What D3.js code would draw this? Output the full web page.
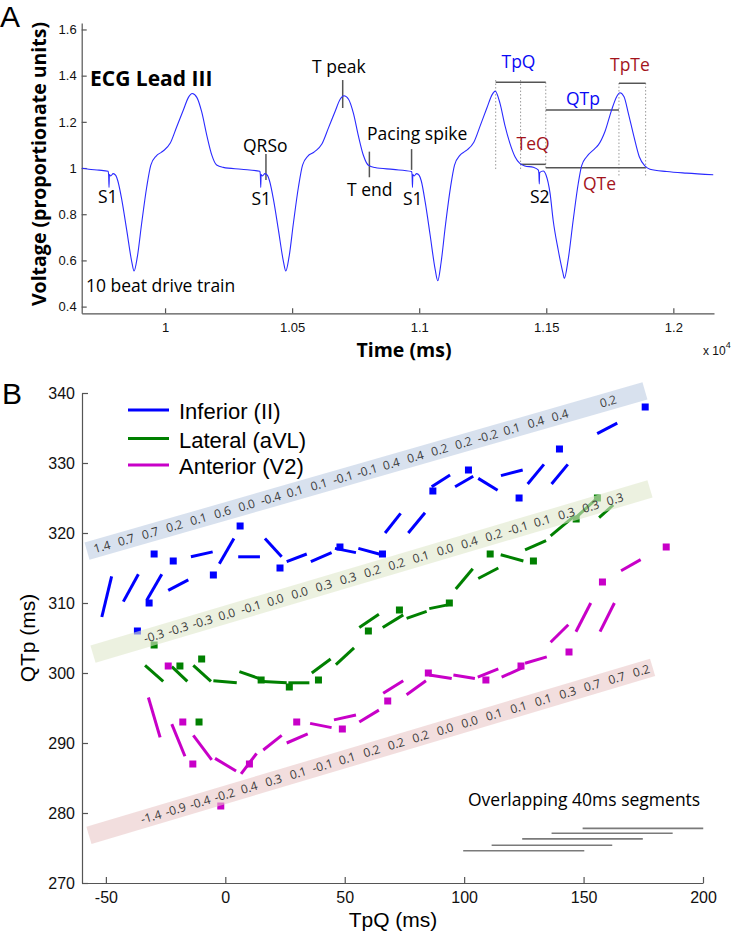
<!DOCTYPE html>
<html><head><meta charset="utf-8">
<script src="https://cdn.jsdelivr.net/npm/d3@7"></script>
<style>body{margin:0;background:#fff}svg{display:block}</style>
</head><body>
<svg id="c" width="736" height="933"></svg>
<script>
// ---------------- Panel A data (ECG Lead III) ----------------
const ecgTime = [9673,9700,9740,9776,9778,9779.5,9781,9786,9796,9806,9814,9830,9849,9869,9878,9891,9908,9928,9944,9965,9985,9995,10020,10046,10072,10092,10107,10125,10144,10164,10184,10203,10229,10300,10373,
 10375,10376.5,10378,10383,10393,10403,10411,10427,10446,10466,10475,10488,10505,10525,10541,10562,10582,10592,10617,10643,10669,10689,10704,10722,10741,10761,10781,10800,10826,10897,10970,
 10972,10973.5,10975,10980,10990,11000,11008,11024,11043,11063,11073,11086,11103,11123,11139,11160,11180,11190,11215,11241,11267,11287,11299,11318,11337,11357,11377,11396,11416,11449,11469,
 11471,11472.5,11474,11488,11499,11515,11527,11547,11566,11571,11586,11606,11626,11639,11659,11692,11705,11731,11757,11777,11790,11806,11823,11845,11866,11888,11908,11974,12052,12157];
const ecgVolt = [0.999,0.995,0.991,0.986,0.970,0.916,0.972,0.966,0.976,0.968,0.945,0.861,0.732,0.594,0.554,0.616,0.761,0.919,1.013,1.052,1.068,1.076,1.107,1.179,1.251,1.306,1.323,1.306,1.244,1.143,1.056,1.013,1.003,0.995,0.986,
 0.970,0.916,0.972,0.966,0.976,0.968,0.945,0.861,0.732,0.594,0.554,0.616,0.761,0.919,1.013,1.052,1.066,1.074,1.104,1.174,1.245,1.298,1.313,1.298,1.238,1.138,1.053,1.012,1.002,0.994,0.985,
 0.970,0.916,0.972,0.966,0.976,0.968,0.945,0.850,0.710,0.560,0.512,0.590,0.750,0.915,1.013,1.055,1.072,1.080,1.112,1.186,1.262,1.318,1.333,1.280,1.186,1.107,1.049,1.020,1.009,1.003,0.991,
 0.975,0.931,0.980,0.987,0.970,0.890,0.775,0.645,0.544,0.522,0.602,0.775,0.934,1.009,1.049,1.085,1.100,1.158,1.251,1.309,1.326,1.309,1.237,1.136,1.049,1.009,0.995,0.985,0.978,0.971];
const voltTicks = [0.4,0.6,0.8,1.0,1.2,1.4,1.6];
const voltTickLabels = ["0.4","0.6","0.8","1","1.2","1.4","1.6"];
const timeTicks = [10000,10500,11000,11500,12000];
const timeTickLabels = ["1","1.05","1.1","1.15","1.2"];
// interval marks (ms)
const tPeak3 = 11301, tEnd3 = 11399, tQ = 11498, tPeakS2 = 11786, tEndS2 = 11891;

// ---------------- Panel B data ----------------
const blueX = [-36.8,-31.9,-29.8,-21.8,-5.0,6.2,22.9,48.0,65.8,86.9,101.8,123.0,139.9,175.8];
const blueY = [306,310,317,316,314,321,315,318,317,326,329,325,332,338];
const greenX = [-29.8,-19.0,-9.9,-11.0,15.0,26.8,39.0,59.9,72.9,93.8,110.9,129.0,146.9,155.8];
const greenY = [304,301,302,293,299,298,299,306,309,310,317,316,322,325];
const magX = [-23.9,-17.8,-13.6,-1.9,10.1,29.9,49.0,68.0,85.0,109.1,123.8,143.9,157.9,184.6];
const magY = [301,293,287,281,287,293,292,296,300,299,301,303,313,318];

// local linear fits over overlapping segments: [x1,y1,x2,y2]
const blueSegments = [[-51.7,308.0,-47.6,313.8],[-42.7,310.2,-36.4,314.1],[-32.9,310.4,-26.6,314.1],[-23.9,311.8,-15.5,313.3],
 [-14.4,316.6,-5.3,317.3],[-2.5,315.6,3.6,319.2],[5.4,316.6,14.5,316.6],[16.6,319.2,23.6,316.6],[25.7,315.9,34.1,317.0],
 [35.8,315.9,44.5,317.2],[45.9,317.8,54.7,317.2],[55.7,317.8,65.5,316.9],[66.9,320.0,73.4,322.8],[76.6,320.0,83.6,322.9],
 [86.4,326.6,94.1,328.3],[96.2,326.6,103.8,328.1],[105.9,327.8,114.0,326.1],[115.4,328.2,124.5,329.0],[126.6,327.0,133.4,329.8],
 [136.6,327.0,143.4,329.8],[155.7,334.2,164.1,335.7]];
const greenSegments = [[-33.6,301.1,-26.0,298.8],[-22.4,300.9,-15.9,298.8],[-13.4,301.1,-6.0,298.8],[-5.0,298.9,4.8,298.6],
 [5.9,300.2,15.9,299.0],[15.7,298.8,25.7,298.6],[26.4,298.6,35.2,298.6],[36.2,300.0,44.1,302.0],[46.3,301.2,53.9,303.6],
 [56.1,306.5,64.3,308.4],[65.9,306.5,74.5,308.3],[75.9,307.8,84.3,308.8],[85.4,309.2,94.1,309.8],[96.5,312.0,103.6,314.9],
 [105.9,313.5,114.3,315.0],[115.3,316.9,124.8,316.0],[125.5,317.6,134.3,318.9],[136.2,319.6,145.7,322.3],[146.4,322.1,154.8,324.7],
 [156.5,322.2,162.4,324.0]];
const magSegments = [[-32.2,296.5,-27.3,290.8],[-22.4,292.7,-16.9,288.1],[-13.4,291.1,-5.7,287.6],[-4.3,287.8,4.5,286.0],
 [6.6,285.6,13.1,288.5],[15.9,289.0,23.6,291.1],[25.7,290.0,34.5,291.3],[35.5,292.8,44.5,292.2],[45.5,293.3,54.7,294.0],
 [56.1,293.0,64.3,294.7],[66.1,297.1,74.5,298.9],[75.9,296.9,84.0,298.9],[85.4,299.7,94.8,299.2],[95.5,299.7,104.5,299.2],
 [105.7,299.4,114.3,300.6],[115.7,299.4,124.8,300.8],[125.5,301.4,134.6,302.3],[136.2,304.4,143.6,306.9],[146.8,305.9,153.0,310.0],
 [156.9,305.9,162.9,310.0],[165.7,314.6,173.9,316.2]];

const blueSlopes = ["1.4","0.7","0.7","0.2","0.1","0.6","0.0","-0.4","0.1","0.1","-0.1","-0.1","0.4","0.4","0.2","0.2","-0.2","0.1","0.4","0.4","","0.2"];
const greenSlopes = ["","","-0.3","-0.3","-0.3","0.0","-0.1","0.0","0.0","0.3","0.3","0.2","0.2","0.1","0.0","0.4","0.2","-0.1","0.1","0.3","0.3","0.3"];
const magSlopes = ["","","-1.4","-0.9","-0.4","-0.2","0.4","0.3","0.1","-0.1","0.1","0.2","0.2","0.2","0.0","0.0","0.1","0.1","0.1","0.3","0.7","0.7","0.2"];

const seriesNames = ["Inferior (II)","Lateral (aVL)","Anterior (V2)"];
const qtpTicks = [270,280,290,300,310,320,330,340];
const tpqTicks = [-50,0,50,100,150,200];
const windowStarts = [99.6,111.5,124.3,136.6,149.6];
const windowEnds = [150.3,162.0,174.8,187.3,200.1];
const windowLevels = [274.6,275.4,276.3,277.1,277.8];

// ---------------- drawing ----------------
const svg = d3.select("#c");
const SANS = "'Liberation Sans', Arial, sans-serif";
const CAL = "'Open Sans', sans-serif";
const BLUE = "#0000ff", GREEN = "#008000", MAG = "#c800c8";
const AXC = "#555";

function styleAxis(g, fs) {
  g.select(".domain").attr("stroke", AXC).attr("stroke-width", 1.2);
  g.selectAll(".tick line").attr("stroke", AXC).attr("stroke-width", 1.2);
  g.selectAll(".tick text").attr("fill", "#111").style("font-family", SANS).style("font-size", fs + "px");
}

// ===== Panel A =====
const xA = d3.scaleLinear().domain([9672, 12160]).range([81.7, 714]);
const yA = d3.scaleLinear().domain([0.371, 1.628]).range([313.3, 23]);

const axA_y = svg.append("g").attr("transform", `translate(${xA.range()[0]},0)`)
  .call(d3.axisLeft(yA).tickValues(voltTicks).tickFormat((d, i) => voltTickLabels[i]).tickSizeInner(-5).tickSizeOuter(0).tickPadding(5));
styleAxis(axA_y, 13);
const axA_x = svg.append("g").attr("transform", `translate(0,${yA.range()[0]})`)
  .call(d3.axisBottom(xA).tickValues(timeTicks).tickFormat((d, i) => timeTickLabels[i]).tickSizeInner(-5).tickSizeOuter(0).tickPadding(9));
styleAxis(axA_x, 13);

// dotted guides and interval bars
const gAnn = svg.append("g");
const dotted = [[tPeak3, 1.381, 0.9915], [tEnd3, 1.381, 0.9915], [tQ, 1.371, 1.0], [tPeakS2, 1.368, 0.966], [tEndS2, 1.368, 0.966]];
gAnn.selectAll("line.dot").data(dotted).join("line")
  .attr("x1", d => xA(d[0])).attr("x2", d => xA(d[0]))
  .attr("y1", d => yA(d[1])).attr("y2", d => yA(d[2]))
  .attr("stroke", "#999").attr("stroke-width", 1).attr("stroke-dasharray", "1.5,2");
const bars = [[tPeak3, tQ, 1.371], [tEnd3, tQ, 1.016], [tQ, tPeakS2, 1.251], [tQ, tEndS2, 1.001], [tPeakS2, tEndS2, 1.367]];
gAnn.selectAll("line.bar").data(bars).join("line")
  .attr("x1", d => xA(d[0])).attr("x2", d => xA(d[1]))
  .attr("y1", d => yA(d[2])).attr("y2", d => yA(d[2]))
  .attr("stroke", "#555").attr("stroke-width", 1.5);
// event marker ticks
const marks = [[10699, 1.381, 1.260], [10397, 1.061, 0.948], [10804, 1.071, 0.960], [10970, 1.082, 0.992]];
gAnn.selectAll("line.mk").data(marks).join("line")
  .attr("x1", d => xA(d[0])).attr("x2", d => xA(d[0]))
  .attr("y1", d => yA(d[1])).attr("y2", d => yA(d[2]))
  .attr("stroke", "#555").attr("stroke-width", 1.5);

// ECG trace
const idx = d3.range(ecgTime.length);
svg.append("path").datum(idx)
  .attr("d", d3.line().x(i => xA(ecgTime[i])).y(i => yA(ecgVolt[i])).curve(d3.curveMonotoneX))
  .attr("fill", "none").attr("stroke", "#2a2aff").attr("stroke-width", 1.1);

// texts panel A
function txt(x, y, s, o = {}) {
  const t = svg.append("text").attr("x", x).attr("y", y).text(s)
    .style("font-family", o.font || CAL).style("font-size", (o.size || 17.5) + "px")
    .attr("fill", o.color || "#000").attr("text-anchor", o.anchor || "start");
  if (o.bold) t.style("font-weight", "bold");
  return t;
}
const DRED = "#a3141c", ABLUE = "#0a0af5";
txt(0, 27, "A", {font: SANS, size: 30});
txt(90, 86, "ECG Lead III", {bold: true, size: 21});
txt(312, 73, "T peak");
txt(243, 152, "QRSo");
txt(347, 196, "T end");
txt(367, 140, "Pacing spike");
txt(98, 203, "S1");
txt(251.5, 205, "S1");
txt(403, 205, "S1");
txt(530, 203, "S2");
txt(86, 292, "10 beat drive train");
txt(501.5, 68, "TpQ", {color: ABLUE});
txt(516.5, 150, "TeQ", {color: DRED});
txt(566, 105, "QTp", {color: ABLUE});
txt(610, 71, "TpTe", {color: DRED});
txt(583, 190, "QTe", {color: DRED});
txt(404, 357, "Time (ms)", {bold: true, size: 19.5, anchor: "middle"});
svg.append("text").attr("transform", "translate(46,164) rotate(-90)").attr("text-anchor", "middle")
  .style("font-family", CAL).style("font-weight", "bold").style("font-size", "19.5px").text("Voltage (proportionate units)");
const xe = svg.append("text").attr("x", 703).attr("y", 355).style("font-family", SANS).style("font-size", "12px").attr("fill", "#111");
xe.append("tspan").text("x 10");
xe.append("tspan").attr("dy", -7).style("font-size", "9px").text("4");

// ===== Panel B =====
const xB = d3.scaleLinear().domain([-60, 200]).range([82, 703]);
const yB = d3.scaleLinear().domain([270, 340]).range([883, 393]);

const axB_y = svg.append("g").attr("transform", `translate(${xB.range()[0]},0)`)
  .call(d3.axisLeft(yB).tickValues(qtpTicks).tickFormat(d3.format("d")).tickSizeInner(-6).tickSizeOuter(0).tickPadding(7));
styleAxis(axB_y, 16);
const axB_x = svg.append("g").attr("transform", `translate(0,${yB.range()[0]})`)
  .call(d3.axisBottom(xB).tickValues(tpqTicks).tickFormat(d3.format("d")).tickSizeInner(-6).tickSizeOuter(0).tickPadding(9));
styleAxis(axB_x, 16);
axB_x.selectAll(".tick text").text((d) => d < 0 ? "-" + Math.abs(d) : d);

const series = [
  {xs: blueX, ys: blueY, segs: blueSegments, color: BLUE},
  {xs: greenX, ys: greenY, segs: greenSegments, color: GREEN},
  {xs: magX, ys: magY, segs: magSegments, color: MAG}
];
const gData = svg.append("g");
series.forEach(s => {
  gData.append("g").selectAll("line").data(s.segs).join("line")
    .attr("x1", d => xB(d[0])).attr("y1", d => yB(d[1]))
    .attr("x2", d => xB(d[2])).attr("y2", d => yB(d[3]))
    .attr("stroke", s.color).attr("stroke-width", 3);
  gData.append("g").selectAll("rect").data(d3.range(s.xs.length)).join("rect")
    .attr("x", i => xB(s.xs[i]) - 3.5).attr("y", i => yB(s.ys[i]) - 3.5)
    .attr("width", 7).attr("height", 7).attr("fill", s.color);
});

// slope bands (semi-transparent, on top of data)
const bands = [
  {x1: -57.9, y1: 317.4, x2: 175.7, y2: 340.3, fill: "rgb(190,205,227)", labels: blueSlopes, lx0: -51.6, step: 10.09},
  {x1: -55.4, y1: 302.7, x2: 177.8, y2: 326.3, fill: "rgb(223,232,203)", labels: greenSlopes, lx0: -50.2, step: 10.16},
  {x1: -57.1, y1: 276.8, x2: 178.9, y2: 300.8, fill: "rgb(233,200,200)", labels: magSlopes, lx0: -51.6, step: 10.26}
];
const gBands = svg.append("g");
bands.forEach(b => {
  const px1 = xB(b.x1), py1 = yB(b.y1), px2 = xB(b.x2), py2 = yB(b.y2);
  const ang = Math.atan2(py2 - py1, px2 - px1) * 180 / Math.PI;
  const len = Math.hypot(px2 - px1, py2 - py1);
  const h = 18;
  gBands.append("rect").attr("x", 0).attr("y", -h / 2).attr("width", len).attr("height", h)
    .attr("transform", `translate(${px1},${py1}) rotate(${ang})`)
    .attr("fill", b.fill).attr("fill-opacity", 0.6);
  const lineY = x => b.y1 + (b.y2 - b.y1) * (x - b.x1) / (b.x2 - b.x1);
  b.labels.forEach((lab, k) => {
    if (!lab) return;
    const xv = b.lx0 + k * b.step;
    gBands.append("text").attr("transform", `translate(${xB(xv)},${yB(lineY(xv))}) rotate(${ang})`)
      .attr("text-anchor", "middle").attr("dy", "0.35em")
      .style("font-family", CAL).style("font-size", "12px").attr("fill", "#3a3a3a").text(lab);
  });
});

// legend
const legColors = [BLUE, GREEN, MAG];
const legY = [410, 438.5, 465];
seriesNames.forEach((n, i) => {
  svg.append("line").attr("x1", 128).attr("x2", 169).attr("y1", legY[i]).attr("y2", legY[i])
    .attr("stroke", legColors[i]).attr("stroke-width", 3);
  svg.append("text").attr("x", 179).attr("y", legY[i] + 1.5).attr("dy", "0.35em").text(n)
    .style("font-family", SANS).style("font-size", "22px").attr("fill", "#000");
});

// overlapping windows illustration
svg.append("g").selectAll("line").data(d3.range(windowStarts.length)).join("line")
  .attr("x1", i => xB(windowStarts[i])).attr("x2", i => xB(windowEnds[i]))
  .attr("y1", i => yB(windowLevels[i])).attr("y2", i => yB(windowLevels[i]))
  .attr("stroke", "#7a7a7a").attr("stroke-width", 1.6);
txt(468, 806, "Overlapping 40ms segments", {size: 17.5});

txt(2, 404, "B", {font: SANS, size: 30});
txt(393, 927, "TpQ (ms)", {font: SANS, size: 21, anchor: "middle"});
svg.append("text").attr("transform", "translate(35,638) rotate(-90)").attr("text-anchor", "middle")
  .style("font-family", SANS).style("font-size", "21px").text("QTp (ms)");
</script>
</body></html>
